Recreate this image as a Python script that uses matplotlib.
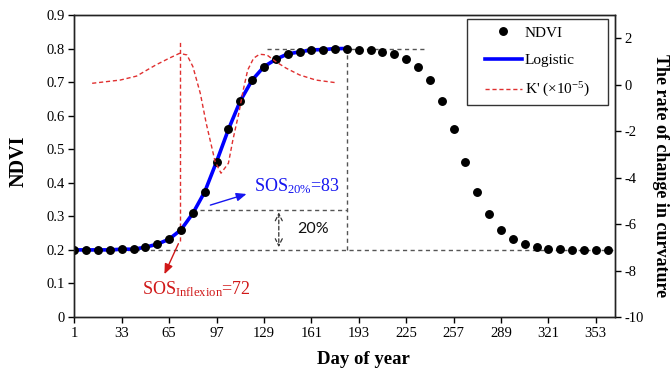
import matplotlib
matplotlib.use('Agg')
import matplotlib.pyplot as plt
from matplotlib.lines import Line2D
from matplotlib.patches import Rectangle

plt.rcParams['font.family'] = ['Liberation Serif', 'DejaVu Serif']
plt.rcParams['mathtext.fontset'] = 'custom'
plt.rcParams['mathtext.rm'] = 'Liberation Serif'
plt.rcParams['mathtext.it'] = 'Liberation Serif:italic'
plt.rcParams['mathtext.bf'] = 'Liberation Serif:bold'

# ---------------- data ----------------
days = [1, 9, 17, 25, 33, 41, 49, 57, 65, 73, 81, 89, 97, 105, 113, 121, 129, 137,
        145, 153, 161, 169, 177, 185, 193, 201, 209, 217, 225, 233, 241, 249, 257,
        265, 273, 281, 289, 297, 305, 313, 321, 329, 337, 345, 353, 361]
ndvi = [0.200, 0.200, 0.200, 0.200, 0.202, 0.202, 0.208, 0.217, 0.232, 0.260,
        0.309, 0.373, 0.463, 0.559, 0.644, 0.706, 0.746, 0.768, 0.784, 0.790,
        0.796, 0.797, 0.800, 0.800, 0.797, 0.796, 0.790, 0.784, 0.769, 0.746,
        0.706, 0.643, 0.560, 0.463, 0.373, 0.308, 0.260, 0.233, 0.218, 0.210,
        0.203, 0.203, 0.200, 0.200, 0.200, 0.200]

logistic_days = days[:24]
logistic_vals = ndvi[:24]

k_days = [13, 32, 43, 50, 56, 65, 72, 77, 81, 86, 90, 96, 100, 105, 108, 112,
          115, 118, 122, 126, 131, 137, 144, 153, 164, 177]
k_vals = [0.06, 0.20, 0.37, 0.63, 0.85, 1.14, 1.35, 1.28, 0.78, -0.37, -1.66,
          -3.31, -3.81, -3.38, -2.38, -1.23, -0.23, 0.63, 1.14, 1.31, 1.28, 0.99,
          0.71, 0.42, 0.20, 0.09]

x_ticks = [1, 33, 65, 97, 129, 161, 193, 225, 257, 289, 321, 353]
y_ticks = [0, 0.1, 0.2, 0.3, 0.4, 0.5, 0.6, 0.7, 0.8, 0.9]
y_tick_labels = ['0', '0.1', '0.2', '0.3', '0.4', '0.5', '0.6', '0.7', '0.8', '0.9']
y2_ticks = [-10, -8, -6, -4, -2, 0, 2]

base_ndvi = 0.2
max_ndvi = 0.8
sos20_ndvi = 0.32
peak_day = 185
sos_inflexion = 72
sos20 = 83

# ---------------- figure ----------------
W, H = 670, 375
fig = plt.figure(figsize=(6.7, 3.75), dpi=100)
ax = fig.add_axes([0.111, 0.1547, 0.807, 0.8053])
ax.set_xlim(1, 366)
ax.set_ylim(0, 0.9)

dash_col = '#555555'
dash_kw = dict(color=dash_col, lw=1.0, ls=(0, (3, 2.5)), zorder=1)
ax.plot([1, 366], [base_ndvi, base_ndvi], **dash_kw)
ax.plot([131, 237], [max_ndvi, max_ndvi], **dash_kw)
ax.plot([peak_day, peak_day], [base_ndvi, max_ndvi], **dash_kw)
ax.plot([86, peak_day], [sos20_ndvi, sos20_ndvi], **dash_kw)

# red vertical at inflexion
ax.plot([sos_inflexion, sos_inflexion], [0.226, 0.822], color='#E03030', lw=1.0,
        ls=(0, (3, 2)), zorder=2)

ax.plot(logistic_days, logistic_vals, color='#0000FF', lw=2.6, zorder=3)
ax.plot(days, ndvi, 'o', color='black', ms=5.4, zorder=4)

# 20% double arrow
ax.annotate('', xy=(139, base_ndvi), xytext=(139, sos20_ndvi),
            arrowprops=dict(arrowstyle='<->,head_length=0.5,head_width=0.25',
                            color='#333333', lw=0.9, ls=(0, (3, 2))), zorder=5)
ax.text(162, 0.262, '20%', fontsize=11.5, family=['Lato', 'DejaVu Sans'],
        ha='center', va='center', color='#111111')

# SOS inflexion arrow + text
ax.annotate('', xy=(61, 0.12), xytext=(sos_inflexion, 0.226),
            arrowprops=dict(arrowstyle='-|>,head_length=0.6,head_width=0.25',
                            color='#D01818', lw=1.0), zorder=5)
ax.text(46.5, 0.082, r'SOS$_{\mathregular{Inflexion}}$=' + str(sos_inflexion),
        color='#D01818', fontsize=13, va='center', ha='left')

# SOS 20% arrow + text
ax.annotate('', xy=(119, 0.369), xytext=(91, 0.331),
            arrowprops=dict(arrowstyle='-|>,head_length=0.6,head_width=0.25',
                            color='#1515F0', lw=1.0), zorder=5)
ax.text(122.5, 0.39, r'SOS$_{\mathregular{20\%}}$=' + str(sos20),
        color='#1515F0', fontsize=13, va='center', ha='left')

ax.set_xticks(x_ticks)
ax.set_xticklabels([str(t) for t in x_ticks])
ax.set_yticks(y_ticks)
ax.set_yticklabels(y_tick_labels)
ax.tick_params(direction='out', length=4, width=1, labelsize=10.5, pad=3)
for s in ax.spines.values():
    s.set_linewidth(1.0)
    s.set_color('#222222')

# twin axis for K'
ax2 = ax.twinx()
ax2.set_ylim(-10, 3)
ax2.set_yticks(y2_ticks)
ax2.set_yticklabels([str(t) for t in y2_ticks])
ax2.tick_params(direction='out', length=4, width=1, labelsize=10.5, pad=3)
ax2.plot(k_days, k_vals, color='#E03030', lw=1.0, ls=(0, (3, 2)), zorder=2)
for s in ax2.spines.values():
    s.set_linewidth(1.0)
    s.set_color('#222222')

# labels
fig.text(18.5 / W, 0.569, 'NDVI', rotation=90, fontsize=14.5, fontweight='bold',
         ha='center', va='center')
fig.text(363 / W, 1 - 360 / H, 'Day of year', fontsize=13.5, fontweight='bold',
         ha='center', va='center')
fig.text(661 / W, 0.531, 'The rate of change in curvature', rotation=270,
         fontsize=13, fontweight='bold', ha='center', va='center')

# legend (frameless) + manual frame
handles = [Line2D([], [], marker='o', ls='none', color='black', ms=5.4),
           Line2D([], [], color='#0000FF', lw=2.6),
           Line2D([], [], color='#E03030', lw=1.0, ls=(0, (3, 2)))]
labels = ['NDVI', 'Logistic', r"K' (×10$^{\mathregular{-5}}$)"]
leg = ax2.legend(handles, labels, loc='upper left',
                 bbox_to_anchor=(485 / W, 1 - 26 / H),
                 bbox_transform=fig.transFigure, borderaxespad=0,
                 fontsize=11, frameon=False, handlelength=2.4,
                 handletextpad=0.2, labelspacing=0.9, borderpad=0, numpoints=1)
leg.set_zorder(11)
frame = Rectangle((466.7 / W, 1 - 105 / H), (608.3 - 466.7) / W, (105 - 19) / H,
                  transform=fig.transFigure, fill=True, facecolor='white',
                  edgecolor='#333333', lw=1.0, zorder=10, clip_on=False)
ax2.add_artist(frame)
frame.set_transform(fig.transFigure)

fig.savefig('out.png', dpi=100)
